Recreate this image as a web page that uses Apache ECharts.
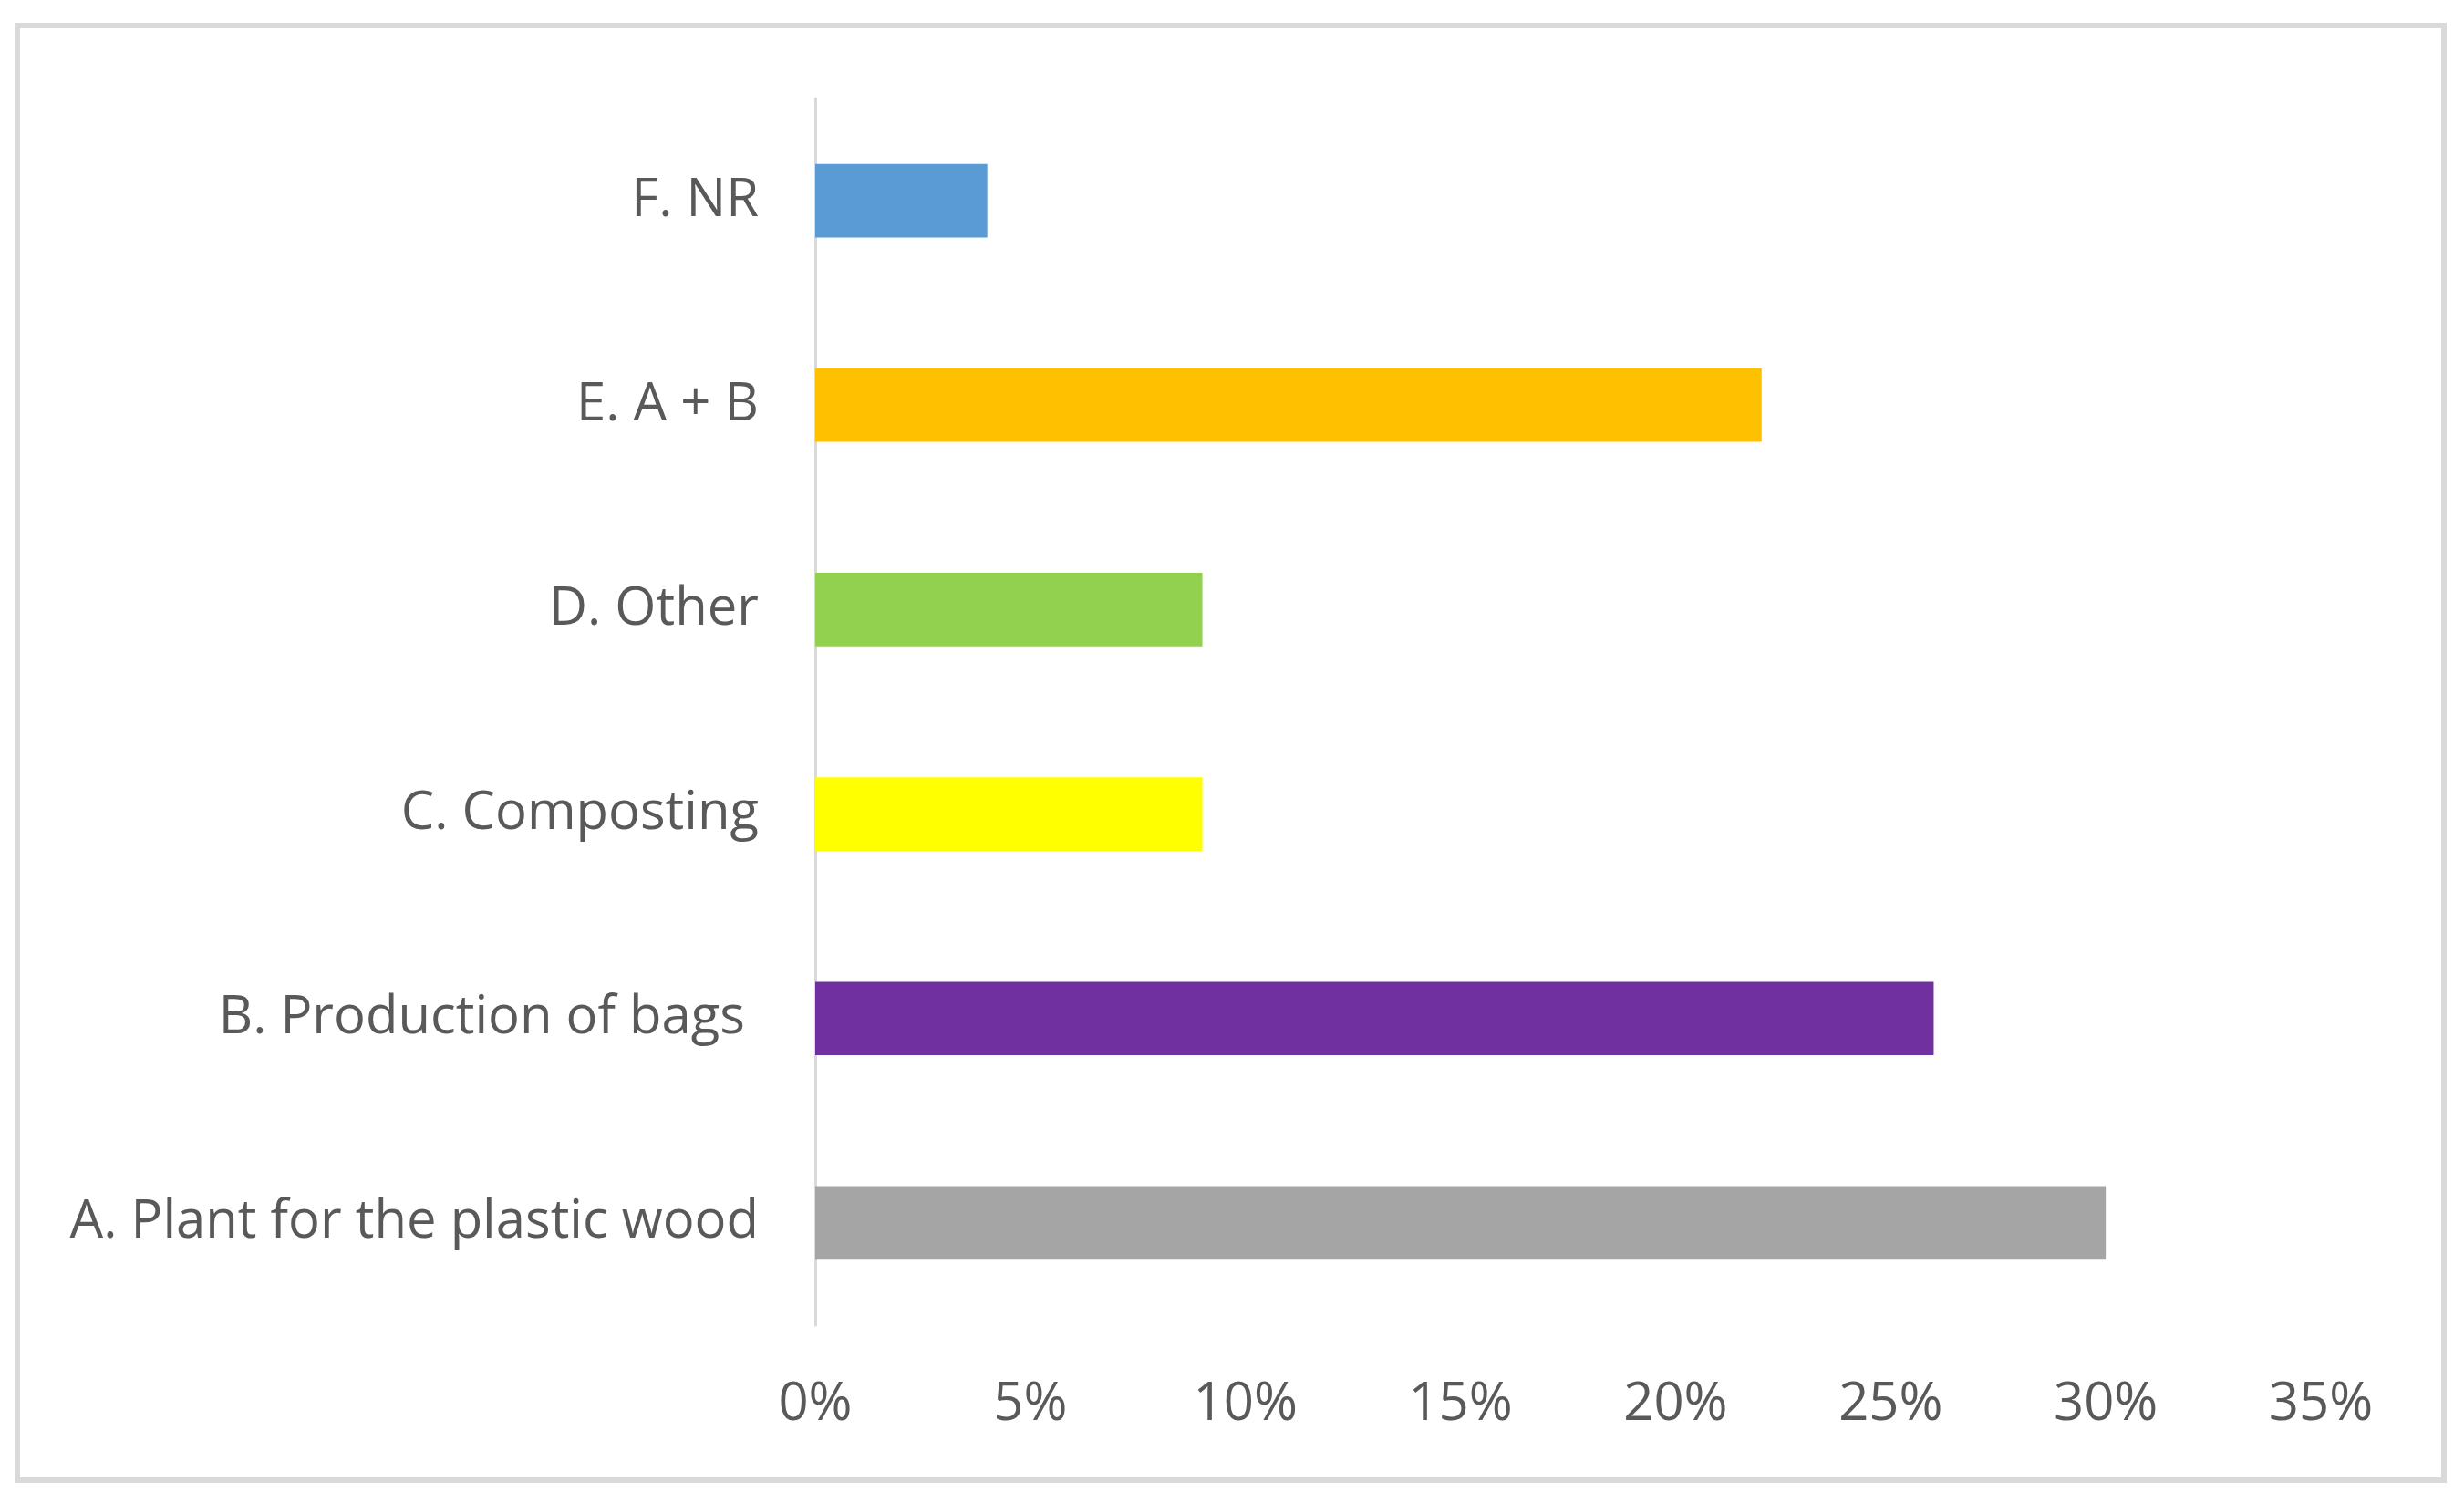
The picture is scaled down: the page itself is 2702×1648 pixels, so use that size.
<!DOCTYPE html>
<html>
<head>
<meta charset="utf-8">
<script src="https://cdn.jsdelivr.net/npm/echarts@6/dist/echarts.min.js"></script>
<style>
  html, body { margin: 0; padding: 0; background: #ffffff; }
  #chart { width: 2702px; height: 1648px; }
</style>
</head>
<body>
<div id="chart"></div>
<script>
// categories bottom to top
var categories = ['A. Plant for the plastic wood', 'B. Production of bags ', 'C. Composting', 'D. Other', 'E. A + B', 'F. NR'];
var values = [30, 26, 9, 9, 22, 4];
var barColors = ['#a5a5a5', '#7030a0', '#ffff00', '#92d050', '#ffc000', '#5b9bd5'];

var chart = echarts.init(document.getElementById('chart'));
chart.setOption({
  backgroundColor: '#ffffff',
  animation: false,
  graphic: [{
    type: 'rect',
    shape: { x: 19, y: 28, width: 2661, height: 1595 },
    style: { fill: 'none', stroke: '#d9d9d9', lineWidth: 6 }
  }],
  grid: { left: 894, right: 157, top: 108, bottom: 195 },
  xAxis: {
    type: 'value',
    min: 0,
    max: 35,
    interval: 5,
    axisLine: { show: false },
    axisTick: { show: false },
    splitLine: { show: false },
    axisLabel: {
      formatter: '{value}%',
      color: '#595959',
      fontSize: 58,
      fontFamily: 'Open Sans',
      margin: 58
    }
  },
  yAxis: {
    type: 'category',
    data: categories,
    axisLine: { show: true, lineStyle: { color: '#d9d9d9', width: 3 } },
    axisTick: { show: false },
    axisLabel: {
      color: '#595959',
      fontSize: 58,
      fontFamily: 'Open Sans',
      margin: 62,
      padding: [14, 0, 0, 0]
    }
  },
  series: [{
    type: 'bar',
    data: values.map(function (v, i) {
      return { value: v, itemStyle: { color: barColors[i] } };
    }),
    barCategoryGap: '64%'
  }]
});
</script>
</body>
</html>
